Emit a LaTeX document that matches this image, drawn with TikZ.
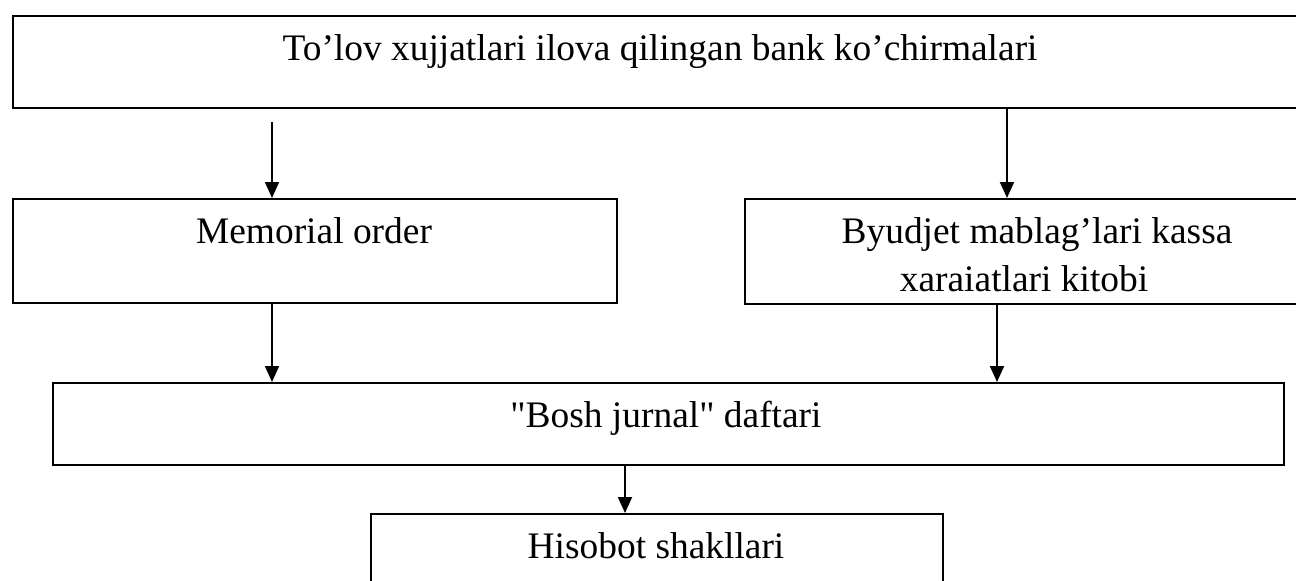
\documentclass[tikz,border=0pt]{standalone}
\usepackage{fontspec}
\setmainfont{Liberation Serif}[Ligatures=TeXOff]
\usetikzlibrary{arrows.meta}

\begin{document}
\begin{tikzpicture}[x=0.02cm, y=-0.02cm, >={Triangle[length=0.32cm,width=0.28cm]}]

\tikzstyle{docbox}=[draw=black, line width=1.1pt, inner sep=0pt, anchor=north west]
\tikzstyle{doctext}=[anchor=base, inner sep=0pt, font=\fontsize{21.3}{28}\selectfont]
\tikzstyle{flow}=[->, line width=1.1pt]

\clip (0,0) rectangle (1296,581);

% boxes
\node[docbox, minimum width=25.96cm, minimum height=1.84cm] (bank) at (12,15) {};
\node[docbox, minimum width=12.08cm, minimum height=2.08cm] (memo) at (12,198) {};
\node[docbox, minimum width=11.72cm, minimum height=2.1cm] (kitob) at (744,198) {};
\node[docbox, minimum width=24.62cm, minimum height=1.64cm] (jurnal) at (52,382) {};
\node[docbox, minimum width=11.44cm, minimum height=2.2cm] (hisobot) at (370,513) {};

% texts
\node[doctext] (banktxt) at (660,61) {To’lov xujjatlari ilova qilingan bank ko’chirmalari};
\node[doctext] (memotxt) at (314,243) {Memorial order};
\node[doctext] (kitobtxt) at (1037,243) {Byudjet mablag’lari kassa};
\node[doctext] (kitobtxtb) at (1024,292) {xaraiatlari kitobi};
\node[doctext] (jurnaltxt) at (666,427) {"Bosh jurnal" daftari};
\node[doctext] (hisobottxt) at (656,558) {Hisobot shakllari};

% arrows
\coordinate (ax1) at (272,0);
\coordinate (ax2) at (1007,0);
\coordinate (ax3) at (997,0);
\coordinate (ax4) at (625,0);
\draw[flow] (bank.south -| ax1) ++(0,13) -- (memo.north -| ax1);
\draw[flow] (bank.south -| ax2) -- (kitob.north -| ax2);
\draw[flow] (memo.south -| ax1) -- (jurnal.north -| ax1);
\draw[flow] (kitob.south -| ax3) -- (jurnal.north -| ax3);
\draw[flow] (jurnal.south -| ax4) -- (hisobot.north -| ax4);
\end{tikzpicture}
\end{document}
